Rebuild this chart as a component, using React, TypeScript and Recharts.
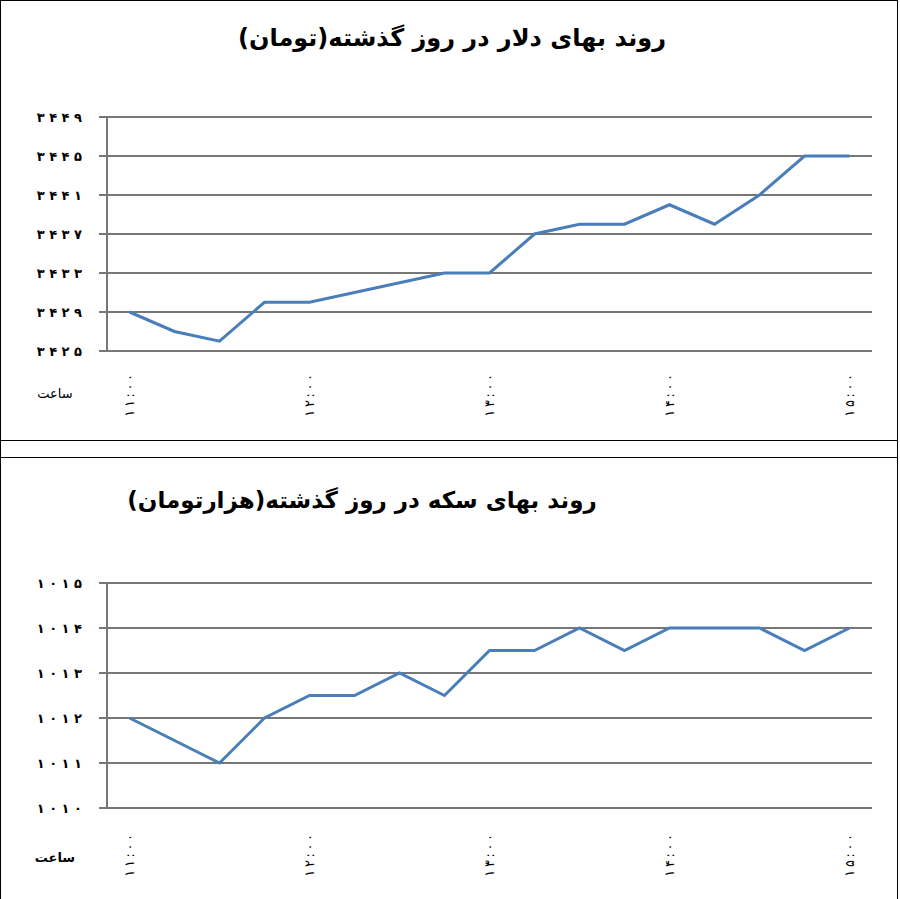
import { LineChart, Line, XAxis, YAxis, CartesianGrid } from "recharts";

const LINE_BLUE = "#4a7ebb";
const GRID_GRAY = "#777777";
const FONT = "'DejaVu Sans', sans-serif";

// 15-minute readings, 11:00 to 15:00
const HOUR_LABELS = ["۱۱:۰۰", "۱۲:۰۰", "۱۳:۰۰", "۱۴:۰۰", "۱۵:۰۰"];
const POINTS_PER_HOUR = 4;

const DOLLAR_VALUES = [3429, 3427, 3426, 3430, 3430, 3431, 3432, 3433, 3433, 3437, 3438, 3438, 3440, 3438, 3441, 3445, 3445];
const DOLLAR_TICKS = [3425, 3429, 3433, 3437, 3441, 3445, 3449];

const COIN_VALUES = [1012, 1011.5, 1011, 1012, 1012.5, 1012.5, 1013, 1012.5, 1013.5, 1013.5, 1014, 1013.5, 1014, 1014, 1014, 1013.5, 1014];
const COIN_TICKS = [1010, 1011, 1012, 1013, 1014, 1015];

const toPersian = (s: string | number) =>
  String(s).replace(/\d/g, (d) => "۰۱۲۳۴۵۶۷۸۹"[Number(d)]);

// the original spreads its digits out
const spaced = (s: string, gap = " ") => s.split("").join(gap);

function RotatedTick(props: any) {
  const { x, y, payload, labels } = props;
  const idx = Math.round((payload.value - 0.5) / POINTS_PER_HOUR);
  const text = labels[idx] ?? "";
  const ty = y + props.offsetY;
  return (
    <text
      x={x}
      y={ty}
      transform={`rotate(-90, ${x}, ${ty})`}
      textAnchor="end"
      dominantBaseline="central"
      fontSize={13}
      fontFamily={FONT}
      fill="#000"
    >
      {spaced(text, "\u2009")}
    </text>
  );
}

interface PanelChartProps {
  values: number[];
  yTicks: number[];
  margin: { top: number; right: number; bottom: number; left: number };
  height: number;
  labelOffset: number;
}

function PanelChart({ values, yTicks, margin, height, labelOffset }: PanelChartProps) {
  const data = values.map((v, i) => ({ x: i + 0.5, v }));
  const boundaryTicks = Array.from({ length: values.length + 1 }, (_, i) => i);
  const labelTicks = HOUR_LABELS.map((_, k) => k * POINTS_PER_HOUR + 0.5);
  const axisBottom = 89;

  return (
    <LineChart width={900} height={height} data={data} margin={margin}>
      <CartesianGrid horizontal vertical={false} stroke={GRID_GRAY} strokeWidth={2} />
      <XAxis
        xAxisId="marks"
        dataKey="x"
        type="number"
        domain={[0, values.length]}
        ticks={boundaryTicks}
        interval={0}
        height={0}
        tick={false}
        tickSize={6}
        axisLine={{ stroke: GRID_GRAY, strokeWidth: 2 }}
        tickLine={{ stroke: GRID_GRAY, strokeWidth: 1 }}
      />
      <XAxis
        xAxisId="labels"
        dataKey="x"
        type="number"
        domain={[0, values.length]}
        ticks={labelTicks}
        interval={0}
        height={axisBottom}
        tickSize={0}
        axisLine={false}
        tickLine={false}
        tick={<RotatedTick labels={HOUR_LABELS} offsetY={labelOffset} />}
      />
      <YAxis
        type="number"
        domain={[yTicks[0], yTicks[yTicks.length - 1]]}
        ticks={yTicks}
        interval={0}
        width={107}
        tickSize={8}
        tickMargin={17}
        tickFormatter={(v: number) => spaced(toPersian(v))}
        axisLine={{ stroke: GRID_GRAY, strokeWidth: 2 }}
        tickLine={{ stroke: GRID_GRAY, strokeWidth: 2 }}
        tick={{ fontSize: 13, fontWeight: "bold", fill: "#000", fontFamily: FONT }}
      />
      <Line
        xAxisId="marks"
        type="linear"
        dataKey="v"
        stroke={LINE_BLUE}
        strokeWidth={3}
        dot={false}
        isAnimationActive={false}
      />
    </LineChart>
  );
}

const titleStyle: React.CSSProperties = {
  position: "absolute",
  fontFamily: FONT,
  fontWeight: "bold",
  fontSize: 23,
  direction: "rtl",
  whiteSpace: "nowrap",
  transform: "translate(-50%, -50%)",
  color: "#000",
};

const hourStyle: React.CSSProperties = {
  position: "absolute",
  fontFamily: FONT,
  fontSize: 13,
  direction: "rtl",
  transform: "translate(-50%, -50%)",
  color: "#000",
};

export default function App() {
  return (
    <div style={{ position: "absolute", left: 0, top: 0, width: 900, height: 899, background: "#fff", overflow: "hidden" }}>
      {/* panel frames */}
      <div style={{ position: "absolute", left: 0, top: 0, width: 898, height: 899, boxSizing: "border-box", borderLeft: "1px solid #000", borderRight: "1px solid #000", borderTop: "1px solid #000" }} />
      <div style={{ position: "absolute", left: 0, top: 440, width: 898, height: 1, background: "#000" }} />
      <div style={{ position: "absolute", left: 0, top: 457, width: 898, height: 1, background: "#000" }} />

      {/* dollar */}
      <div style={{ position: "absolute", left: 0, top: 0 }}>
        <PanelChart
          values={DOLLAR_VALUES}
          yTicks={DOLLAR_TICKS}
          height={440}
          margin={{ top: 117, right: 28, bottom: 0, left: 0 }}
          labelOffset={21}
        />
      </div>
      <div style={{ ...titleStyle, left: 452, top: 38, fontSize: 24 }}>روند بهای دلار در روز گذشته(تومان)</div>
      <div style={{ ...hourStyle, left: 55, top: 393 }}>ساعت</div>

      {/* coin */}
      <div style={{ position: "absolute", left: 0, top: 458 }}>
        <PanelChart
          values={COIN_VALUES}
          yTicks={COIN_TICKS}
          height={439}
          margin={{ top: 125, right: 28, bottom: 0, left: 0 }}
          labelOffset={24}
        />
      </div>
      <div style={{ ...titleStyle, left: 362, top: 500 }}>روند بهای سکه در روز گذشته(هزارتومان)</div>
      <div style={{ ...hourStyle, left: 55, top: 857, fontWeight: "bold" }}>ساعت</div>
    </div>
  );
}
